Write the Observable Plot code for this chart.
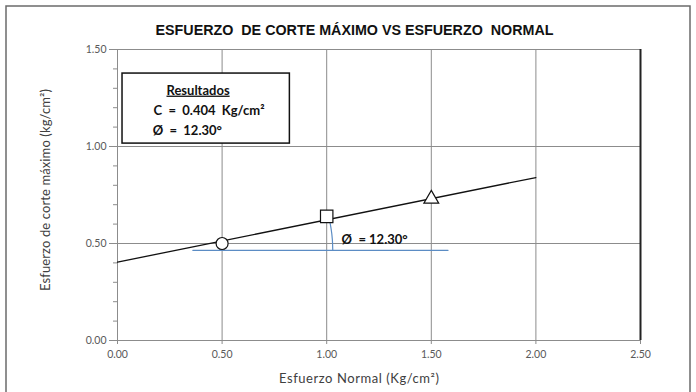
<!DOCTYPE html>
<html>
<head>
<meta charset="utf-8">
<script src="https://cdn.jsdelivr.net/npm/d3@7"></script>
<script src="https://cdn.jsdelivr.net/npm/@observablehq/plot@0.6"></script>
<style>
  html, body { margin: 0; padding: 0; background: white; }
</style>
</head>
<body>
<div id="chart"></div>
<script>
// ---- data ----
const sigmaN = [0.5, 1.0, 1.5];          // Esfuerzo normal (Kg/cm²)
const tauMax = [0.50, 0.64, 0.73];       // Esfuerzo de corte máximo (kg/cm²)
const markerSymbols = ["circle", "square", "triangle"];
const fitX = [0, 2.0];                   // recta de Mohr-Coulomb
const fitY = [0.404, 0.840];
const refX = [0.36, 1.58];               // línea horizontal de referencia
const refY = [0.465, 0.465];
const arcX = [1.029, 1.027, 1.021, 1.011];
const arcY = [0.464, 0.521, 0.576, 0.636];
const xTicks = [0, 0.5, 1.0, 1.5, 2.0, 2.5];
const xTickLabels = ["0.00", "0.50", "1.00", "1.50", "2.00", "2.50"];
const yTicks = [0, 0.5, 1.0, 1.5];
const yTickLabels = ["0.00", "0.50", "1.00", "1.50"];
const yMinor = [0.1, 0.2, 0.3, 0.4, 0.6, 0.7, 0.8, 0.9, 1.1, 1.2, 1.3, 1.4];
const titleText = "ESFUERZO  DE CORTE MÁXIMO VS ESFUERZO  NORMAL";
const xLabel = "Esfuerzo Normal (Kg/cm²)";
const yLabel = "Esfuerzo de corte máximo (kg/cm²)";
const resultLines = ["Resultados", "C  =  0.404  Kg/cm²", "Ø  =  12.30°"];
const phiLabel = "Ø  = 12.30°";

const points = sigmaN.map((x, i) => ({x, y: tauMax[i], s: markerSymbols[i]}));
const fit = fitX.map((x, i) => ({x, y: fitY[i]}));
const ref = refX.map((x, i) => ({x, y: refY[i]}));
const arc = arcX.map((x, i) => ({x, y: arcY[i]}));

const font = "Lato, 'Open Sans', sans-serif";
const gridColor = "#8c8c8c";
const blue = "#5b8cc4";

const chart = Plot.plot({
  width: 696,
  height: 392,
  marginLeft: 117,
  marginRight: 56,
  marginTop: 49,
  marginBottom: 52,
  x: {domain: [0, 2.5]},
  y: {domain: [0, 1.5]},
  style: {fontFamily: font, fontSize: "10.5px", color: "#595959", background: "white"},
  marks: [
    Plot.ruleX(xTicks.slice(1, -1), {stroke: gridColor, strokeWidth: 1}),
    Plot.ruleY(yTicks.slice(1), {stroke: gridColor, strokeWidth: 1}),
    Plot.ruleX([0], {stroke: gridColor, strokeWidth: 1}),
    Plot.ruleY([0], {stroke: gridColor, strokeWidth: 1}),
    Plot.ruleX([2.5], {stroke: "#222", strokeWidth: 2}),
    Plot.axisX({ticks: xTicks, tickFormat: (d, i) => xTickLabels[i], tickSize: 4, tickPadding: 6, label: null, stroke: gridColor}),
    Plot.axisY({ticks: yTicks, tickFormat: (d, i) => yTickLabels[i], tickSize: 8, tickPadding: 3, label: null, stroke: gridColor}),
    Plot.axisY({ticks: yMinor, tickFormat: () => "", tickSize: 4, label: null, stroke: gridColor}),
    // results box
    Plot.rect([0], {x1: 0.024, x2: 0.824, y1: 1.015, y2: 1.376, fill: "white", stroke: "#111", strokeWidth: 1.5}),
    Plot.text([resultLines[0]], {x: 0.385, y: 1.289, fontWeight: "bold", fontSize: 13, fill: "#111", fontFamily: font}),
    Plot.text([resultLines[1]], {x: 0.172, y: 1.186, textAnchor: "start", fontWeight: "bold", fontSize: 13, fill: "#111", fontFamily: font}),
    Plot.text([resultLines[2]], {x: 0.168, y: 1.082, textAnchor: "start", fontWeight: "bold", fontSize: 13, fill: "#111", fontFamily: font}),
    // reference lines
    Plot.line(ref, {x: "x", y: "y", stroke: blue, strokeWidth: 1.2}),
    Plot.line(arc, {x: "x", y: "y", stroke: blue, strokeWidth: 1.2, curve: "natural"}),
    Plot.line(fit, {x: "x", y: "y", stroke: "#111", strokeWidth: 1.3}),
    Plot.dot(points.filter(d => d.s === "circle"), {x: "x", y: "y", symbol: "circle", r: 6, fill: "white", stroke: "#111", strokeWidth: 1.2}),
    Plot.dot(points.filter(d => d.s === "square"), {x: "x", y: "y", symbol: "square", r: 7, fill: "white", stroke: "#111", strokeWidth: 1.2}),
    Plot.dot(points.filter(d => d.s === "triangle"), {x: "x", y: "y", symbol: "triangle", r: 5.5, fill: "white", stroke: "#111", strokeWidth: 1.2}),
    Plot.text([phiLabel], {x: 1.071, y: 0.518, textAnchor: "start", fontWeight: "bold", fontSize: 13, fill: "#111", fontFamily: font}),
    // title and axis titles
    Plot.text([titleText], {frameAnchor: "top", dx: -24.5, dy: -24, fontWeight: "bold", fontSize: 14, fill: "#111",
      fontFamily: "'Liberation Sans', Arial, sans-serif"}),
    Plot.text([xLabel], {frameAnchor: "bottom", textAnchor: "middle", lineAnchor: "middle", dx: -20, dy: 38, fontSize: 13, fill: "#404040", fontFamily: font}),
    Plot.text([yLabel], {frameAnchor: "left", textAnchor: "middle", lineAnchor: "middle", dx: -72, dy: -5, rotate: -90, fontSize: 13, fill: "#404040", fontFamily: font})
  ]
});

const svg = d3.select(chart);
svg.selectAll("text").style("white-space", "pre");
svg.selectAll("text").filter(function() { return this.textContent === resultLines[0]; })
  .style("text-decoration", "underline");
svg.selectAll("text").filter(function() { return this.textContent === titleText; })
  .attr("textLength", 398)
  .attr("lengthAdjust", "spacingAndGlyphs");
svg.selectAll("text").filter(function() { return this.textContent === xLabel; })
  .attr("textLength", 160);
svg.selectAll("text").filter(function() { return this.textContent === yLabel; })
  .attr("textLength", 202);
svg.append("path")
  .attr("d", "M6,392V6H690V392")
  .attr("fill", "none")
  .attr("stroke", "#6b6b6b")
  .attr("stroke-width", 1.5);

document.getElementById("chart").appendChild(chart);
</script>
</body>
</html>
